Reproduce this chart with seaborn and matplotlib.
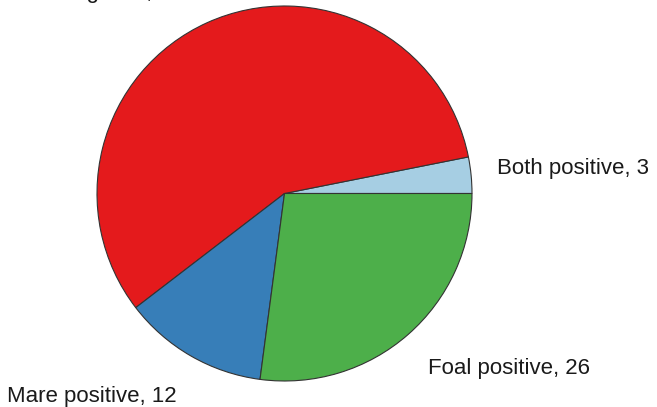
import matplotlib
matplotlib.use("Agg")
import matplotlib.pyplot as plt
import seaborn as sns
import numpy as np

sns.set_theme(style="white")
plt.rcParams['font.family'] = ['Liberation Sans', 'DejaVu Sans']

categories = ["Both positive", "Both negative", "Mare positive", "Foal positive"]
values = [3, 55, 12, 26]
colors = ["#A6CEE3", "#E41A1C", "#377EB8", "#4DAF4A"]

W, H = 657, 407
fig = plt.figure(figsize=(W / 100, H / 100), dpi=100)
ax = fig.add_axes([0, 0, 1, 1])
cx, cy, r = 284.5, H - 193.5, 187.5
wedges, _ = ax.pie(values, colors=colors, startangle=0, counterclock=True,
                   center=(cx, cy), radius=r, frame=True,
                   wedgeprops=dict(edgecolor="#333333", linewidth=0.8))
ax.set_xlim(0, W)
ax.set_ylim(0, H)
ax.set_axis_off()

dists = [1.14, 1.1, 1.18, 1.17]
xoff = [0, -16, 3, -1]
yoff = [4.5, 13, -11, -10]
for w, cat, v, d, xo, yo in zip(wedges, categories, values, dists, xoff, yoff):
    ang = np.deg2rad((w.theta1 + w.theta2) / 2)
    x = cx + d * r * np.cos(ang) + xo
    y = cy + d * r * np.sin(ang) + yo
    ax.text(x, y, f"{cat}, {v}", ha="left" if np.cos(ang) > 0 else "right",
            va="center", fontsize=16, color="#1a1a1a", clip_on=False)

fig.savefig("out.png", dpi=100)
